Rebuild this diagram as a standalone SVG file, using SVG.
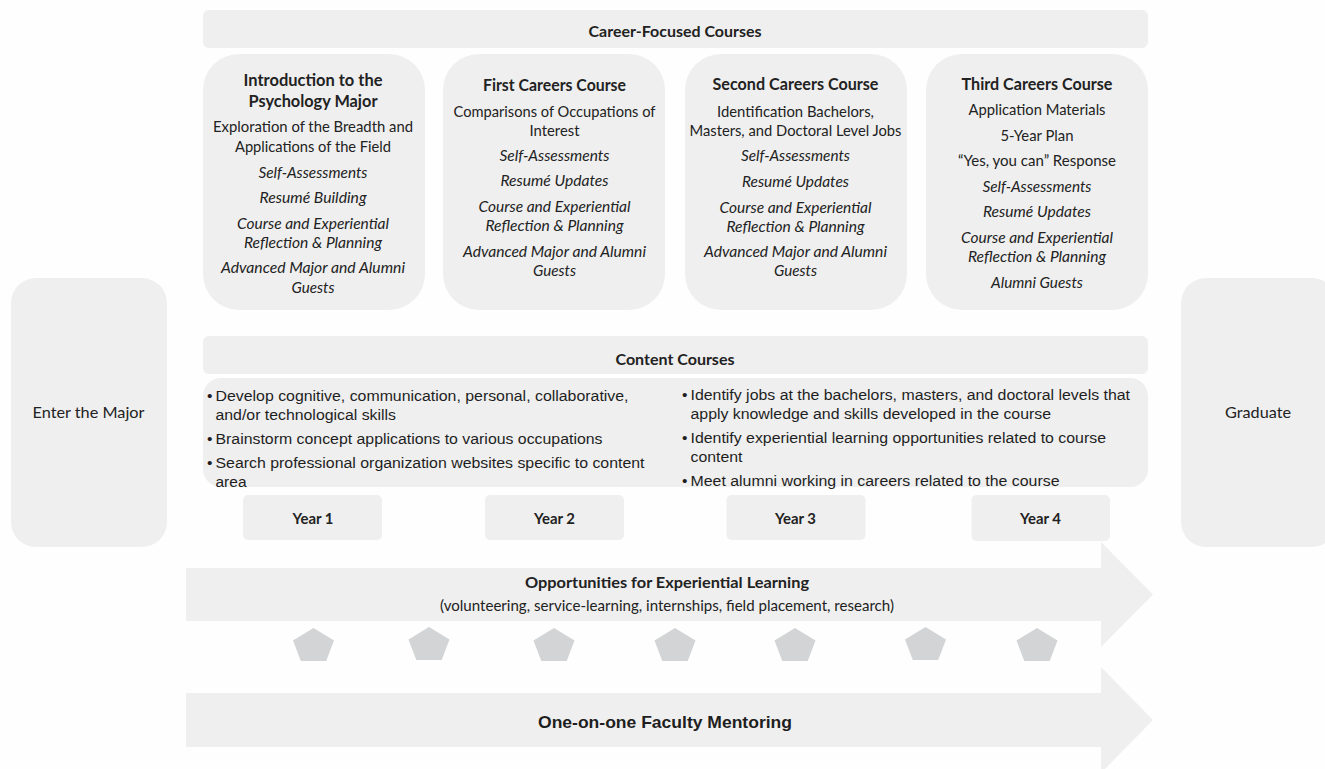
<svg xmlns="http://www.w3.org/2000/svg" width="1325" height="769" viewBox="0 0 1325 769">
  <style>
    .box { fill: #efefef; }
    .pent { fill: #d3d4d6; }
    .hd { font-family: Lato, "Open Sans", sans-serif; font-weight: 700; font-size: 17px; fill: #222; text-anchor: middle; }
    .sh { font-family: Lato, "Open Sans", sans-serif; font-weight: 700; font-size: 15.5px; fill: #222; text-anchor: middle; }
    .tx { font-family: Lato, "Open Sans", sans-serif; font-size: 15px; fill: #222; text-anchor: middle; }
    .it { font-style: italic; }
    .bl { font-family: "Liberation Sans", Arial, sans-serif; font-size: 15.5px; fill: #1e1e1e; }
    .mb { font-family: "Liberation Sans", Arial, sans-serif; font-weight: 700; font-size: 17px; fill: #1e1e1e; text-anchor: middle; }
  </style>
  <defs>
    <polygon id="pentagon" class="pent" points="0,0 20.5,12.6 12.7,33 -12.7,33 -20.5,12.6"/>
  </defs>

  <rect width="1325" height="769" fill="#fefefe"/>

  <!-- top band: career-focused courses -->
  <g id="career-header">
    <rect class="box" x="203" y="10" width="945" height="38" rx="6"/>
    <text class="sh" x="675" y="37" textLength="173" lengthAdjust="spacingAndGlyphs">Career-Focused Courses</text>
  </g>

  <g id="course-intro">
    <rect class="box" x="203" y="54" width="222" height="256" rx="36"/>
    <text class="hd" x="313" y="86" textLength="139" lengthAdjust="spacingAndGlyphs">Introduction to the</text>
    <text class="hd" x="313" y="107" textLength="129" lengthAdjust="spacingAndGlyphs">Psychology Major</text>
    <text class="tx" x="313" y="132" textLength="200" lengthAdjust="spacingAndGlyphs">Exploration of the Breadth and</text>
    <text class="tx" x="313" y="151.5" textLength="156" lengthAdjust="spacingAndGlyphs">Applications of the Field</text>
    <text class="tx it" x="313" y="177.5" textLength="109" lengthAdjust="spacingAndGlyphs">Self-Assessments</text>
    <text class="tx it" x="313" y="202.5" textLength="107" lengthAdjust="spacingAndGlyphs">Resumé Building</text>
    <text class="tx it" x="313" y="228.5" textLength="152" lengthAdjust="spacingAndGlyphs">Course and Experiential</text>
    <text class="tx it" x="313" y="247.5" textLength="138" lengthAdjust="spacingAndGlyphs">Reflection &amp; Planning</text>
    <text class="tx it" x="313" y="273" textLength="184" lengthAdjust="spacingAndGlyphs">Advanced Major and Alumni</text>
    <text class="tx it" x="313" y="292.5" textLength="43" lengthAdjust="spacingAndGlyphs">Guests</text>
  </g>

  <g id="course-first">
    <rect class="box" x="443" y="54" width="222" height="256" rx="36"/>
    <text class="hd" x="554.5" y="90.5" textLength="143" lengthAdjust="spacingAndGlyphs">First Careers Course</text>
    <text class="tx" x="554.5" y="116.5" textLength="202" lengthAdjust="spacingAndGlyphs">Comparisons of Occupations of</text>
    <text class="tx" x="554.5" y="135.5" textLength="50" lengthAdjust="spacingAndGlyphs">Interest</text>
    <text class="tx it" x="554.5" y="161" textLength="110" lengthAdjust="spacingAndGlyphs">Self-Assessments</text>
    <text class="tx it" x="554.5" y="186" textLength="108" lengthAdjust="spacingAndGlyphs">Resumé Updates</text>
    <text class="tx it" x="554.5" y="212" textLength="152" lengthAdjust="spacingAndGlyphs">Course and Experiential</text>
    <text class="tx it" x="554.5" y="231" textLength="138" lengthAdjust="spacingAndGlyphs">Reflection &amp; Planning</text>
    <text class="tx it" x="554.5" y="257" textLength="183" lengthAdjust="spacingAndGlyphs">Advanced Major and Alumni</text>
    <text class="tx it" x="554.5" y="276" textLength="43" lengthAdjust="spacingAndGlyphs">Guests</text>
  </g>

  <g id="course-second">
    <rect class="box" x="685" y="54" width="222" height="256" rx="36"/>
    <text class="hd" x="795.5" y="90" textLength="166" lengthAdjust="spacingAndGlyphs">Second Careers Course</text>
    <text class="tx" x="795.5" y="116.5" textLength="157" lengthAdjust="spacingAndGlyphs">Identification Bachelors,</text>
    <text class="tx" x="795.5" y="135.5" textLength="212" lengthAdjust="spacingAndGlyphs">Masters, and Doctoral Level Jobs</text>
    <text class="tx it" x="795.5" y="161" textLength="109" lengthAdjust="spacingAndGlyphs">Self-Assessments</text>
    <text class="tx it" x="795.5" y="186.5" textLength="107" lengthAdjust="spacingAndGlyphs">Resumé Updates</text>
    <text class="tx it" x="795.5" y="212.5" textLength="152" lengthAdjust="spacingAndGlyphs">Course and Experiential</text>
    <text class="tx it" x="795.5" y="231.5" textLength="138" lengthAdjust="spacingAndGlyphs">Reflection &amp; Planning</text>
    <text class="tx it" x="795.5" y="257" textLength="183" lengthAdjust="spacingAndGlyphs">Advanced Major and Alumni</text>
    <text class="tx it" x="795.5" y="276" textLength="43" lengthAdjust="spacingAndGlyphs">Guests</text>
  </g>

  <g id="course-third">
    <rect class="box" x="926" y="54" width="222" height="256" rx="36"/>
    <text class="hd" x="1037" y="89.5" textLength="151" lengthAdjust="spacingAndGlyphs">Third Careers Course</text>
    <text class="tx" x="1037" y="115" textLength="137" lengthAdjust="spacingAndGlyphs">Application Materials</text>
    <text class="tx" x="1037" y="140.5" textLength="73" lengthAdjust="spacingAndGlyphs">5-Year Plan</text>
    <text class="tx" x="1037" y="166" textLength="158" lengthAdjust="spacingAndGlyphs">“Yes, you can” Response</text>
    <text class="tx it" x="1037" y="192" textLength="109" lengthAdjust="spacingAndGlyphs">Self-Assessments</text>
    <text class="tx it" x="1037" y="217" textLength="108" lengthAdjust="spacingAndGlyphs">Resumé Updates</text>
    <text class="tx it" x="1037" y="243" textLength="152" lengthAdjust="spacingAndGlyphs">Course and Experiential</text>
    <text class="tx it" x="1037" y="262" textLength="138" lengthAdjust="spacingAndGlyphs">Reflection &amp; Planning</text>
    <text class="tx it" x="1037" y="287.5" textLength="92" lengthAdjust="spacingAndGlyphs">Alumni Guests</text>
  </g>

  <!-- side pillars -->
  <g id="enter-major">
    <rect class="box" x="11" y="278" width="156" height="269" rx="25"/>
    <text class="tx" x="88.5" y="418" textLength="112" lengthAdjust="spacingAndGlyphs">Enter the Major</text>
  </g>
  <g id="graduate">
    <rect class="box" x="1181" y="278" width="156" height="269" rx="25"/>
    <text class="tx" x="1258" y="418" textLength="66" lengthAdjust="spacingAndGlyphs">Graduate</text>
  </g>

  <!-- middle band: content courses -->
  <g id="content-header">
    <rect class="box" x="203" y="336" width="945" height="38" rx="6"/>
    <text class="sh" x="675" y="365" textLength="119" lengthAdjust="spacingAndGlyphs">Content Courses</text>
  </g>
  <g id="content-body">
    <rect class="box" x="203" y="378" width="945" height="109" rx="18"/>
    <text class="bl" x="207" y="401">•</text>
    <text class="bl" x="215.5" y="401" textLength="413" lengthAdjust="spacingAndGlyphs">Develop cognitive, communication, personal, collaborative,</text>
    <text class="bl" x="215.5" y="420" textLength="180.5" lengthAdjust="spacingAndGlyphs">and/or technological skills</text>
    <text class="bl" x="207" y="443.5">•</text>
    <text class="bl" x="215.5" y="443.5" textLength="387" lengthAdjust="spacingAndGlyphs">Brainstorm concept applications to various occupations</text>
    <text class="bl" x="207" y="467.5">•</text>
    <text class="bl" x="215.5" y="467.5" textLength="429" lengthAdjust="spacingAndGlyphs">Search professional organization websites specific to content</text>
    <text class="bl" x="215.5" y="487" textLength="31" lengthAdjust="spacingAndGlyphs">area</text>

    <text class="bl" x="682" y="400">•</text>
    <text class="bl" x="690.5" y="400" textLength="439.5" lengthAdjust="spacingAndGlyphs">Identify jobs at the bachelors, masters, and doctoral levels that</text>
    <text class="bl" x="690.5" y="419" textLength="360.5" lengthAdjust="spacingAndGlyphs">apply knowledge and skills developed in the course</text>
    <text class="bl" x="682" y="442.5">•</text>
    <text class="bl" x="690.5" y="442.5" textLength="415.5" lengthAdjust="spacingAndGlyphs">Identify experiential learning opportunities related to course</text>
    <text class="bl" x="690.5" y="461.5" textLength="52" lengthAdjust="spacingAndGlyphs">content</text>
    <text class="bl" x="682" y="485.5">•</text>
    <text class="bl" x="690.5" y="485.5" textLength="369" lengthAdjust="spacingAndGlyphs">Meet alumni working in careers related to the course</text>
  </g>

  <!-- year markers -->
  <g id="year-1">
    <rect class="box" x="243" y="495" width="139" height="45" rx="5"/>
    <text class="sh" x="313" y="523.5" textLength="41" lengthAdjust="spacingAndGlyphs">Year 1</text>
  </g>
  <g id="year-2">
    <rect class="box" x="485" y="495" width="139" height="45" rx="5"/>
    <text class="sh" x="554.5" y="523.5" textLength="41" lengthAdjust="spacingAndGlyphs">Year 2</text>
  </g>
  <g id="year-3">
    <rect class="box" x="726.5" y="495" width="139" height="45" rx="5"/>
    <text class="sh" x="795.5" y="523.5" textLength="41" lengthAdjust="spacingAndGlyphs">Year 3</text>
  </g>
  <g id="year-4">
    <rect class="box" x="971.5" y="495" width="138.5" height="46" rx="5"/>
    <text class="sh" x="1040.5" y="523.5" textLength="41" lengthAdjust="spacingAndGlyphs">Year 4</text>
  </g>

  <!-- block arrows running toward graduation -->
  <g id="experiential-learning">
    <polygon class="box" points="186,568 1101,568 1101,542 1153,594.5 1101,647 1101,621 186,621"/>
    <text class="sh" x="667" y="587.5" textLength="284" lengthAdjust="spacingAndGlyphs">Opportunities for Experiential Learning</text>
    <text class="tx" x="667" y="610.5" textLength="454" lengthAdjust="spacingAndGlyphs">(volunteering, service-learning, internships, field placement, research)</text>
  </g>

  <g id="milestones">
    <use href="#pentagon" x="313.5" y="628"/>
    <use href="#pentagon" x="429" y="627"/>
    <use href="#pentagon" x="554" y="628"/>
    <use href="#pentagon" x="675" y="628"/>
    <use href="#pentagon" x="795" y="628"/>
    <use href="#pentagon" x="925.5" y="627"/>
    <use href="#pentagon" x="1037" y="628"/>
  </g>

  <g id="faculty-mentoring">
    <polygon class="box" points="186,693 1101,693 1101,667 1153,720 1101,773 1101,747 186,747"/>
    <text class="mb" x="665" y="727.5" textLength="254" lengthAdjust="spacingAndGlyphs">One-on-one Faculty Mentoring</text>
  </g>
</svg>
